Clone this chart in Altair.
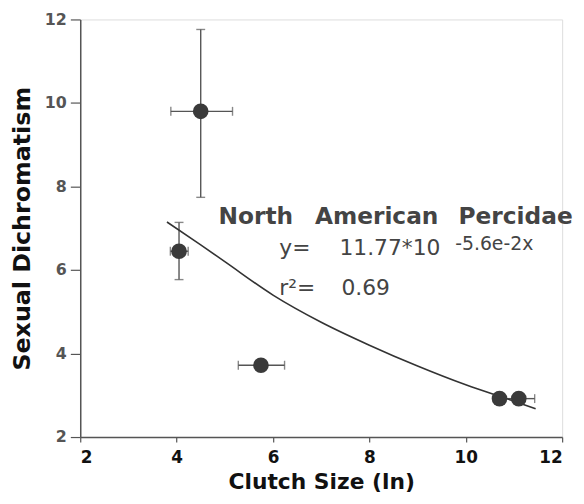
import altair as alt
import pandas as pd

# ---- data ----
clutch = [4.5, 4.05, 5.75, 10.7, 11.1]
dichro = [9.8, 6.45, 3.72, 2.92, 2.92]
clutch_lo = [3.88, 3.87, 5.28, 10.7, 10.8]
clutch_hi = [5.16, 4.24, 6.24, 10.7, 11.43]
dichro_lo = [7.74, 5.77, 3.72, 2.92, 2.92]
dichro_hi = [11.76, 7.14, 3.72, 2.92, 2.92]

fit_x = [3.8, 4.5, 5.0, 6.0, 7.0, 8.0, 9.0, 10.0, 11.0, 11.45]
fit_y = [7.15, 6.6, 6.2, 5.4, 4.75, 4.2, 3.7, 3.25, 2.86, 2.68]

tick_vals = [2, 4, 6, 8, 10, 12]

pts = pd.DataFrame({"x": clutch, "y": dichro, "xlo": clutch_lo, "xhi": clutch_hi,
                    "ylo": dichro_lo, "yhi": dichro_hi})
fit = pd.DataFrame({"x": fit_x, "y": fit_y})

xs = alt.Scale(domain=[2, 12], nice=False, zero=False)
ys = alt.Scale(domain=[2, 12], nice=False, zero=False)

x_axis = alt.Axis(values=tick_vals, grid=False, tickSize=5, labelPadding=8,
                  labelFont="DejaVu Sans", labelFontWeight="bold", labelFontSize=17,
                  labelColor="#111", titleFont="DejaVu Sans", titleFontWeight="bold",
                  titleFontSize=22, titleColor="#111", titlePadding=6,
                  domainColor="#555", tickColor="#555", domainWidth=1.5, tickWidth=1.2)
y_axis = alt.Axis(values=tick_vals, grid=False, tickSize=10, labelPadding=4,
                  labelFont="DejaVu Sans", labelFontWeight="bold", labelFontSize=16,
                  labelColor="#555", titleFont="DejaVu Sans", titleFontWeight="bold",
                  titleFontSize=24, titleColor="#111", titlePadding=10,
                  domainColor="#555", tickColor="#555", domainWidth=1.5, tickWidth=1.2)

def X(f):
    return alt.X(f + ":Q", scale=xs, axis=x_axis, title="Clutch Size (ln)")

def Y(f):
    return alt.Y(f + ":Q", scale=ys, axis=y_axis, title="Sexual Dichromatism")

base = alt.Chart(pts)
err_col = "#555"

vbar = base.mark_rule(color=err_col, strokeWidth=1.4).encode(x=X("x"), y=Y("ylo"), y2="yhi:Q")
hbar = base.mark_rule(color=err_col, strokeWidth=1.4).encode(x=X("xlo"), x2="xhi:Q", y=Y("y"))
cap_style = dict(color=err_col, thickness=1.4, size=9)
vcap_lo = base.mark_tick(orient="horizontal", **cap_style).encode(x=X("x"), y=Y("ylo"))
vcap_hi = base.mark_tick(orient="horizontal", **cap_style).encode(x=X("x"), y=Y("yhi"))
hcap_lo = base.mark_tick(orient="vertical", **cap_style).encode(x=X("xlo"), y=Y("y"))
hcap_hi = base.mark_tick(orient="vertical", **cap_style).encode(x=X("xhi"), y=Y("y"))

line = alt.Chart(fit).mark_line(color="#333", strokeWidth=1.6, interpolate="monotone").encode(
    x=X("x"), y=Y("y"))

dots = base.mark_point(filled=True, shape="circle", size=250, color="#3a3a3a", opacity=1).encode(
    x=X("x"), y=Y("y"))

# annotation text (anchor positions in data units)
title_words = pd.DataFrame({"t": ["North", "American", "Percidae"],
                            "x": [4.87, 6.87, 9.85], "y": [7.09, 7.09, 7.09]})
eq_words = pd.DataFrame({"t": ["y=", "11.77*10", "r²=", "0.69"],
                         "x": [6.13, 7.38, 6.13, 7.42], "y": [6.36, 6.36, 5.39, 5.39]})
sup_words = pd.DataFrame({"t": ["-5.6e-2x"], "x": [9.78], "y": [6.48]})

def txt(df, size, weight):
    return alt.Chart(df).mark_text(align="left", baseline="alphabetic", font="DejaVu Sans",
                                   fontSize=size, fontWeight=weight, color="#444").encode(
        x=X("x"), y=Y("y"), text="t:N")

chart = alt.layer(vbar, hbar, vcap_lo, vcap_hi, hcap_lo, hcap_hi, line, dots,
                  txt(title_words, 23.5, "bold"), txt(eq_words, 22, "normal"),
                  txt(sup_words, 19, "normal")).properties(
    width=487, height=422,
    autosize=alt.AutoSizeParams(type="none"),
    padding={"left": 73, "top": 9, "right": 14, "bottom": 56},
).configure_view(stroke=None).configure(background="white")

chart.save("out.html", embed_options={"renderer": "svg", "actions": False})
